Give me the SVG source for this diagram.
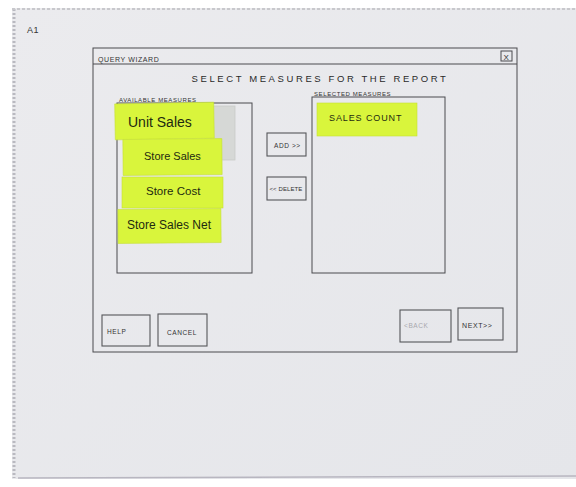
<svg xmlns="http://www.w3.org/2000/svg" width="576" height="487" viewBox="0 0 576 487">
<defs>
<style>
.ln{fill:none;stroke:#4a4a4e;stroke-width:1}
.btn{fill:none;stroke:#55565a;stroke-width:1.1}
.sm{font-family:"Liberation Sans",Arial,sans-serif;fill:#333;letter-spacing:0.6px}
.md{font-family:"Liberation Sans",Arial,sans-serif;font-size:9.5px;fill:#2a2a2a;letter-spacing:2.6px}
.note{fill:#d9f53c;stroke:#c5e034;stroke-width:0.6}
.nt{font-family:"Liberation Sans",Arial,sans-serif;fill:#1e2a10}
</style>
<linearGradient id="paper" x1="0" y1="0" x2="1" y2="1">
<stop offset="0" stop-color="#ebebee"/>
<stop offset="1" stop-color="#e5e6ea"/>
</linearGradient>
</defs>
<rect width="576" height="487" fill="#ffffff"/>
<g id="sheet">
<rect x="12" y="8" width="564" height="471" fill="url(#paper)"/>
<line x1="14" y1="9" x2="14" y2="478" stroke="#b9b9c0" stroke-width="3" stroke-dasharray="2 2"/>
<line x1="12" y1="9" x2="576" y2="9" stroke="#c8c8cc" stroke-width="2" stroke-dasharray="3 2"/>
<line x1="18" y1="478" x2="576" y2="476" stroke="#b8b6c0" stroke-width="1.5"/>
<text x="27" y="33" class="sm" style="font-size:9px">A1</text>
</g>
<g id="window">
<rect x="93" y="48" width="424" height="304" class="ln"/>
<line x1="93" y1="64" x2="517" y2="64" class="ln"/>
<text x="98" y="62" class="sm" style="font-size:7px">QUERY WIZARD</text>
<rect x="501" y="51" width="11" height="10" class="ln"/>
<text x="503.5" y="59.5" class="sm" style="font-size:8px">X</text>
<text x="320" y="82" class="md" text-anchor="middle">SELECT MEASURES FOR THE REPORT</text>
</g>
<g id="available">
<text x="119" y="102" class="sm" style="font-size:6px">AVAILABLE MEASURES</text>
<rect x="117" y="103" width="135" height="170" class="ln"/>
<rect x="205" y="106" width="30" height="54" fill="#d6d8d6" stroke="#c9cbc9" stroke-width="0.8"/>
</g>
<g id="selected">
<text x="314" y="96" class="sm" style="font-size:6px">SELECTED MEASURES</text>
<rect x="312" y="97" width="133" height="176" class="ln"/>
</g>
<g id="note-unit-sales">
<rect x="115" y="103" width="99" height="36" class="note" transform="rotate(-1 165 121)"/>
<text x="128" y="127" class="nt" style="font-size:14px">Unit Sales</text>
</g>
<g id="note-store-sales">
<rect x="123" y="139" width="99" height="36" class="note" transform="rotate(-0.5 172 157)"/>
<text x="144" y="160" class="nt" style="font-size:11px">Store Sales</text>
</g>
<g id="note-store-cost">
<rect x="122" y="177" width="101" height="31" class="note"/>
<text x="146" y="195" class="nt" style="font-size:11.5px">Store Cost</text>
</g>
<g id="note-store-sales-net">
<rect x="118" y="209" width="103" height="34" class="note" transform="rotate(-0.5 170 226)"/>
<text x="127" y="229" class="nt" style="font-size:12px">Store Sales Net</text>
</g>
<g id="note-sales-count">
<rect x="317" y="103" width="100" height="33" class="note"/>
<text x="329" y="121" class="nt" style="font-size:9px;letter-spacing:0.9px">SALES COUNT</text>
</g>
<g id="btn-add">
<rect x="267" y="133" width="39" height="23" class="btn"/>
<text x="274" y="148" class="sm" style="font-size:6.5px">ADD &gt;&gt;</text>
</g>
<g id="btn-delete">
<rect x="267" y="177" width="39" height="23" class="btn"/>
<text x="269.5" y="191" class="sm" style="font-size:6px;letter-spacing:0.1px">&lt;&lt; DELETE</text>
</g>
<g id="btn-help">
<rect x="102" y="315" width="48" height="31" class="btn"/>
<text x="107" y="334" class="sm" style="font-size:6.5px">HELP</text>
</g>
<g id="btn-cancel">
<rect x="158" y="314" width="49" height="32" class="btn"/>
<text x="167" y="335" class="sm" style="font-size:6.5px">CANCEL</text>
</g>
<g id="btn-back">
<rect x="400" y="310" width="51" height="32" class="btn"/>
<text x="404" y="328" class="sm" style="font-size:6.5px;fill:#a8a8ae">&lt;BACK</text>
</g>
<g id="btn-next">
<rect x="458" y="308" width="45" height="32" class="btn"/>
<text x="462" y="328" class="sm" style="font-size:7px">NEXT&gt;&gt;</text>
</g>
</svg>
